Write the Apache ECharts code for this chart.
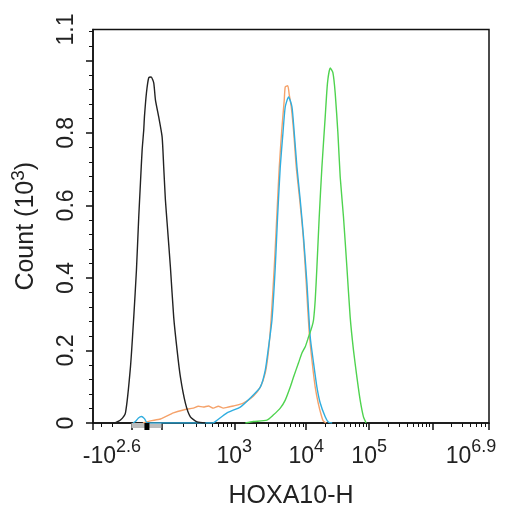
<!DOCTYPE html>
<html>
<head>
<meta charset="utf-8">
<script src="https://cdn.jsdelivr.net/npm/echarts@6/dist/echarts.min.js"></script>
<style>
  html, body { margin: 0; padding: 0; background: #fff; }
  #chart { width: 512px; height: 515px; }
</style>
</head>
<body>
<div id="chart"></div>
<script>
// display channels of the biexponential HOXA10-H axis (0 = left edge, 396.5 = right edge)
var xMin = 0, xMax = 396.5;
var yMax = 1.085;

// decade anchors on the channel scale
var decadeExp = [2, 3, 4, 5, 6];
var decadeCh = [68.5, 141.5, 213.5, 276.5, 340];
var negTenTwoCh = 38.5;   // -10^2
var zeroCh = 54;          // 0

var xMajorTicks = [0, 38.5, 68.5, 141.5, 213.5, 276.5, 340, 396.5];
var xLabelVals = [0, 141.5, 213.5, 276.5, 396.5];
var xLabelText = ['{pl| }{b|-10}{s|2.6}', '{b|10}{s|3}', '{b|10}{s|4}', '{b|10}{s|5}', '{b|10}{s|6.9}{pr| }'];

var yMajorTicks = [0, 0.2, 0.4, 0.6, 0.8, 1.0];
var yLabelVals = [0, 0.2, 0.4, 0.6, 0.8, yMax];
var yLabelText = ['0', '0.2', '0.4', '0.6', '0.8', '1.1'];

// histograms: [channel, count (10^3)]
var isotypeBlack = [[22,0],[27.5,0.008],[32.5,0.028],[37.5,0.154],[40.8,0.292],[43.5,0.422],[45.8,0.568],
  [47.5,0.662],[49.2,0.753],[50.8,0.808],[51.5,0.844],[53.5,0.910],[55.8,0.952],[58.2,0.954],[60.8,0.938],
  [62.5,0.891],[65.8,0.844],[69.2,0.789],[70.8,0.706],[72.5,0.615],[74.2,0.552],[77.5,0.430],[80.8,0.292],
  [84.2,0.201],[87.5,0.127],[92.5,0.055],[97.5,0.017],[104.2,0.003],[112.5,0]];

var sampleOrange = [[50,0],[57.5,0.006],[67.5,0.011],[80.5,0.028],[90.5,0.036],[100.5,0.041],[105.5,0.046],
  [110.5,0.044],[115.5,0.047],[120.5,0.041],[125.5,0.046],[130.5,0.041],[135.5,0.044],[140.5,0.047],
  [150.5,0.055],[160.5,0.074],[167.5,0.099],[172.5,0.138],[175.8,0.201],[178.5,0.292],[181.5,0.430],
  [184,0.568],[186.5,0.706],[189,0.808],[191.5,0.891],[192.5,0.927],[195,0.930],[196.5,0.905],[198.5,0.872],
  [201,0.800],[203.5,0.706],[207,0.615],[210.5,0.513],[213.5,0.386],[216.5,0.248],[219.5,0.166],
  [222.5,0.099],[225.5,0.055],[228.5,0.022],[230.5,0.006],[233.5,0]];

var sampleBlue = [[40,0],[42.5,0.004],[45.5,0.014],[48.5,0.018],[51.5,0.012],[54.5,0],[119.5,0],
  [122.5,0.004],[134.2,0.028],[147.5,0.044],[157.5,0.069],[167.5,0.099],[172.5,0.146],[175.8,0.210],
  [179.2,0.284],[182.5,0.430],[184.8,0.568],[187.5,0.706],[190.2,0.800],[192.5,0.872],[195.8,0.899],
  [199.2,0.872],[201.5,0.800],[204.2,0.706],[207.5,0.615],[210.8,0.513],[214.2,0.386],[217.5,0.237],
  [220.8,0.166],[224.2,0.099],[227.5,0.055],[232.5,0.017],[235.5,0.003],[239.5,0]];

var sampleGreen = [[152.5,0],[160.5,0.004],[174.2,0.008],[180.5,0.022],[187.5,0.041],[192.5,0.063],
  [197.5,0.099],[200.8,0.127],[205.8,0.166],[209.2,0.193],[212.5,0.210],[215.8,0.237],[219.2,0.265],
  [220.8,0.284],[222.5,0.339],[224.2,0.430],[226.5,0.568],[229.2,0.706],[232.5,0.844],[234.8,0.938],
  [237.5,0.979],[240.2,0.966],[242.5,0.910],[245.2,0.800],[247.5,0.679],[250.8,0.568],[254.2,0.430],
  [257.5,0.292],[260.8,0.201],[264.2,0.127],[267.5,0.063],[270.8,0.017],[273.5,0]];

var lineColors = ['#222222', '#f5a26a', '#30aee0', '#4fd34f'];

// minor ticks: log steps inside each decade
var xMinorTicks = [];
[2, 3].forEach(function(m){ xMinorTicks.push(negTenTwoCh - Math.log10(m) * 64); });
for (var i = 0; i < decadeCh.length - 1; i++) {
  for (var m = 2; m <= 9; m++) {
    xMinorTicks.push(decadeCh[i] + Math.log10(m) * (decadeCh[i+1] - decadeCh[i]));
  }
}
for (var m2 = 2; m2 <= 7; m2++) {
  xMinorTicks.push(decadeCh[4] + Math.log10(m2) * ((xMax - decadeCh[4]) / 0.9));
}
var yMinorTicks = [];
for (var k = 1; k <= 27; k++) {
  if (k % 5 !== 0) yMinorTicks.push(+(k * 0.04).toFixed(2));
}

var font = '"Liberation Sans", Arial, sans-serif';
var txt = '#222';
var richX = {
  b: { fontSize: 23, fontFamily: font, color: txt, lineHeight: 30, verticalAlign: 'bottom' },
  s: { fontSize: 18, fontFamily: font, color: txt, lineHeight: 18, verticalAlign: 'top' },
  pl: { width: 38, fontSize: 14 },
  pr: { width: 36, fontSize: 14 }
};

var myChart = echarts.init(document.getElementById('chart'));

var option = {
  animation: false,
  grid: { left: 93, right: 23, top: 29.5, bottom: 92, outerBoundsMode: 'none', containLabel: false,
          show: true, borderColor: '#111', borderWidth: 1.5, backgroundColor: 'transparent' },
  xAxis: [
    {
      type: 'value', min: xMin, max: xMax,
      name: 'HOXA10-H', nameLocation: 'middle', nameGap: 61,
      nameTextStyle: { fontSize: 25, fontFamily: font, color: txt },
      axisLine: { show: true, lineStyle: { color: '#111', width: 1.5 } },
      axisTick: { show: true, length: 7, lineStyle: { color: '#111', width: 1.5 }, customValues: xMajorTicks },
      axisLabel: {
        show: true, margin: 15, customValues: xLabelVals,
        formatter: function(v){
          var idx = xLabelVals.indexOf(v);
          return idx < 0 ? '' : xLabelText[idx];
        },
        rich: richX
      },
      splitLine: { show: false }
    },
    {
      type: 'value', min: xMin, max: xMax, position: 'bottom',
      axisLine: { show: false },
      axisTick: { show: true, length: 4, lineStyle: { color: '#111', width: 1 }, customValues: xMinorTicks },
      axisLabel: { show: false },
      splitLine: { show: false }
    }
  ],
  yAxis: [
    {
      type: 'value', min: 0, max: yMax,
      name: '{b|Count (10}{s|3}{b|)}', nameLocation: 'middle', nameGap: 54, nameRotate: 90,
      nameTextStyle: { rich: {
        b: { fontSize: 25, fontFamily: font, color: txt, lineHeight: 30, verticalAlign: 'bottom' },
        s: { fontSize: 19, fontFamily: font, color: txt, lineHeight: 19, verticalAlign: 'top' }
      } },
      axisLine: { show: true, lineStyle: { color: '#111', width: 1.5 } },
      axisTick: { show: true, length: 7, lineStyle: { color: '#111', width: 1.5 }, customValues: yMajorTicks },
      axisLabel: {
        show: true, rotate: 90, margin: 15, customValues: yLabelVals,
        fontSize: 23, fontFamily: font, color: txt,
        formatter: function(v){
          var idx = yLabelVals.indexOf(v);
          return idx < 0 ? '' : yLabelText[idx];
        }
      },
      splitLine: { show: false }
    },
    {
      type: 'value', min: 0, max: yMax, position: 'left',
      axisLine: { show: false },
      axisTick: { show: true, length: 4, lineStyle: { color: '#111', width: 1 }, customValues: yMinorTicks },
      axisLabel: { show: false },
      splitLine: { show: false }
    }
  ],
  series: [isotypeBlack, sampleOrange, sampleBlue, sampleGreen].map(function(d, i){
    return {
      type: 'line', data: d, showSymbol: false, smooth: 0.2,
      lineStyle: { color: lineColors[i], width: 1.4 },
      z: i === 0 ? 5 : 3 + i * 0.1
    };
  })
};

myChart.setOption(option);

// linear-region band and zero marker under the x axis
var bandL = myChart.convertToPixel({ xAxisIndex: 0 }, negTenTwoCh);
var bandR = myChart.convertToPixel({ xAxisIndex: 0 }, decadeCh[0]);
var zeroPx = myChart.convertToPixel({ xAxisIndex: 0 }, zeroCh);
var basePx = myChart.convertToPixel({ yAxisIndex: 0 }, 0);
myChart.setOption({
  graphic: [
    { type: 'rect', z: 1, shape: { x: bandL, y: basePx, width: bandR - bandL, height: 5 }, style: { fill: '#bdbdbd' } },
    { type: 'rect', z: 10, shape: { x: zeroPx - 2.5, y: basePx, width: 5, height: 7 }, style: { fill: '#000' } }
  ]
});
</script>
</body>
</html>
